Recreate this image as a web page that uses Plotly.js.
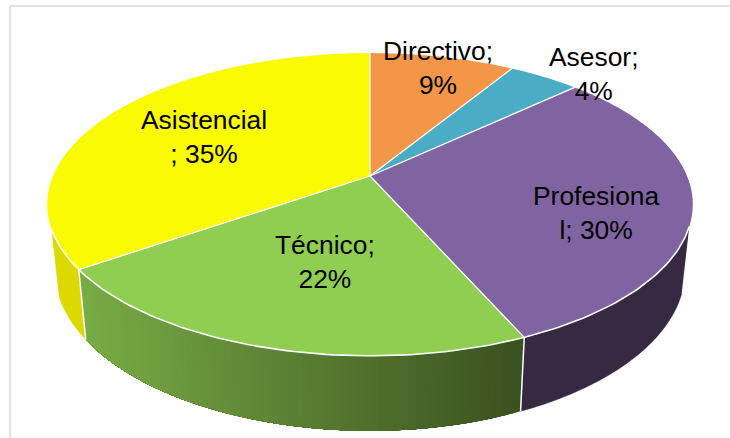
<!DOCTYPE html>
<html>
<head>
<meta charset="utf-8">
<script src="https://cdn.plot.ly/plotly-3.0.1.min.js"></script>
<style>html,body{margin:0;padding:0;background:#fff;overflow:hidden}#chart{width:730px;height:438px}</style>
</head>
<body>
<div id="chart"></div>
<script>
// Data (percent shares, clockwise from 12 o'clock)
const categories = ["Directivo", "Asesor", "Profesional", "Técnico", "Asistencial"];
const values = [8.7, 4.3, 30.4, 21.9, 34.7];
const labelHeads = ["Directivo;<br>", "Asesor;<br>", "Profesiona<br>l; ", "Técnico;<br>", "Asistencial<br>; "];
const topColors = ["#f49648", "#4bacc6", "#8064a2", "#8fce50", "#fafa00"];
const labelAnchors = [[438, 68], [593, 74], [596, 213], [325, 262], [204, 137]];

// Projection of the tilted disc onto the pixel-valued axes
const cx = 370, cy = 176, Rx = 317, Ry = 146, k = 0.188;
const rim = deg => {
  const t = deg * Math.PI / 180, u = Math.sin(t), v = Math.cos(t), w = 1 + k * v;
  return [cx + Rx * u / w, cy - Ry * v / w];
};
const lower = p => {
  const y = p[1] + 70 + (p[1] - 271) * 0.059;
  return [cx + (p[0] - cx) * 0.976, y];
};
const arc = (a, b, n) => Array.from({length: n + 1}, (_, i) => rim(a + (b - a) * i / n));

const total = values.reduce((s, x) => s + x, 0);
let acc = 0;
const spans = values.map(x => { const a = acc; acc += x; return [a / total * 360, acc / total * 360]; });

const traces = [];
const poly = (pts, fill, lineColor, lineWidth) => traces.push({
  type: "scatter", mode: "lines", x: pts.map(p => p[0]), y: pts.map(p => p[1]),
  fill: "toself", fillcolor: fill, line: {color: lineColor, width: lineWidth, simplify: false},
  hoverinfo: "skip", showlegend: false
});
const wallPoly = (a, b, n) => { const top = arc(a, b, n); return top.concat(top.map(lower).reverse()); };
const wallEdge = deg => { const p = rim(deg); traces.push({
  type: "scatter", mode: "lines", x: [p[0], lower(p)[0]], y: [p[1], lower(p)[1]],
  line: {color: "#ffffff", width: 1.5}, hoverinfo: "skip", showlegend: false}); };

// Side wall: visible limits of the rim
const wallFrom = 109, wallTo = 250;
poly(wallPoly(wallFrom, spans[2][1], 60), "#352a42", "#352a42", 0.5);
poly(wallPoly(spans[4][0], wallTo, 30), "#dcd900", "#dcd900", 0.5);

// Técnico wall: horizontal shading, painted from the right-hand end leftwards with each band
// reaching to the far end, so that no seams appear between bands
const bands = 70, shadeL = [120, 172, 68], shadeR = [58, 80, 32];
const tecA = spans[3][0], tecB = spans[3][1];
const bx0 = rim(tecB)[0], bx1 = rim(tecA)[0];
for (let i = 0; i < bands; i++) {
  const a = tecA + (tecB - tecA) * i / bands;
  const next = tecA + (tecB - tecA) * (i + 1) / bands;
  const t = Math.min(1, Math.max(0, (rim((a + next) / 2)[0] - bx0) / (bx1 - bx0)));
  const col = "rgb(" + shadeL.map((c, j) => Math.round(c + (shadeR[j] - c) * t)).join(",") + ")";
  poly(wallPoly(a, tecB, Math.max(2, Math.round((tecB - a) / 1.2))), col, "rgba(0,0,0,0)", 0);
}
wallEdge(spans[3][0]);
wallEdge(spans[3][1]);

// Top face
spans.forEach((s, i) => {
  const n = Math.max(12, Math.round((s[1] - s[0]) * 1.5));
  poly([[cx, cy]].concat(arc(s[0], s[1], n)).concat([[cx, cy]]), topColors[i], "rgba(0,0,0,0)", 0);
});
// White seams
spans.forEach(s => {
  const p = rim(s[0]);
  traces.push({type: "scatter", mode: "lines", x: [cx, p[0]], y: [cy, p[1]],
    line: {color: "#ffffff", width: 1.3}, hoverinfo: "skip", showlegend: false});
});
const frontRim = arc(wallFrom, wallTo, 120);
traces.push({type: "scatter", mode: "lines", x: frontRim.map(p => p[0]), y: frontRim.map(p => p[1]),
  line: {color: "#ffffff", width: 1.6}, hoverinfo: "skip", showlegend: false});

const annotations = categories.map((c, i) => ({
  x: labelAnchors[i][0], y: labelAnchors[i][1], xref: "x", yref: "y",
  text: labelHeads[i] + Math.round(values[i]) + "%",
  showarrow: false, xanchor: "center", yanchor: "middle", align: "center",
  font: {family: "Liberation Sans, Arial, sans-serif", size: 26.4, color: "#000000"}
}));

Plotly.newPlot("chart", traces, {
  width: 730, height: 438, margin: {l: 0, r: 0, t: 0, b: 0},
  paper_bgcolor: "#ffffff", plot_bgcolor: "#ffffff", showlegend: false,
  xaxis: {range: [0, 730], visible: false, fixedrange: true},
  yaxis: {range: [438, 0], visible: false, fixedrange: true},
  shapes: [{type: "rect", xref: "x", yref: "y", x0: 10, y0: 6, x1: 760, y1: 470,
    line: {color: "#d9d9d9", width: 1.5}, layer: "below"}],
  annotations: annotations
}, {displayModeBar: false, responsive: false});
</script>
</body>
</html>
